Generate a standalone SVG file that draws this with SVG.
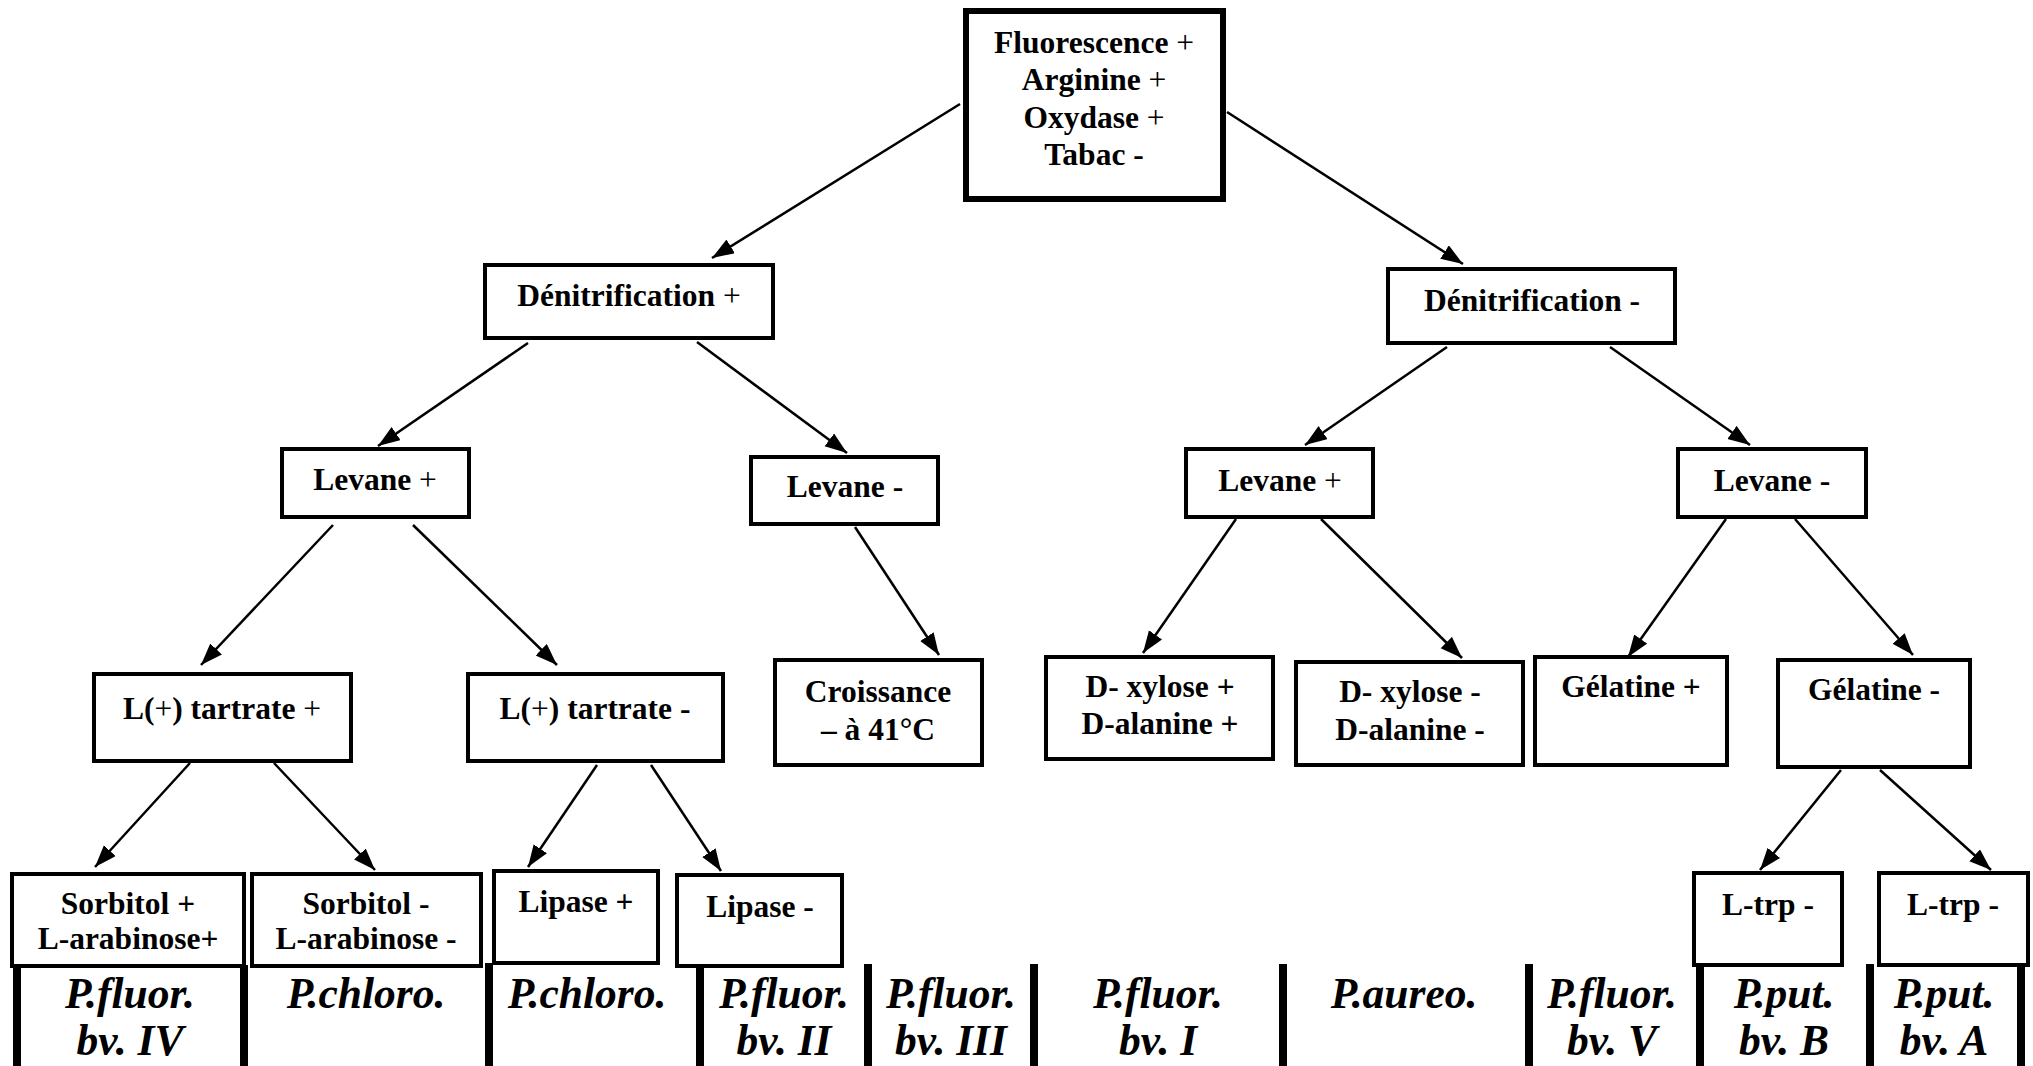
<svg xmlns="http://www.w3.org/2000/svg" width="2033" height="1066" viewBox="0 0 2033 1066">
<style>
rect.b{fill:#fff;stroke:#000;stroke-width:4}
rect.t{fill:#fff;stroke:#000;stroke-width:6}
text{font-family:"Liberation Serif","Times New Roman",serif;font-weight:bold;font-size:31.5px;text-anchor:middle;fill:#000}
text.sp{font-style:italic;font-size:43.5px}
tspan.n{font-weight:normal}
line.c{stroke:#000;stroke-width:2.5;marker-end:url(#ah)}
line.bar{stroke:#000;stroke-width:8}
</style>
<defs>
<marker id="ah" markerUnits="userSpaceOnUse" markerWidth="24" markerHeight="18" refX="22" refY="8" orient="auto">
<path d="M0,0 L22,8 L0,16 z" fill="#000"/>
</marker>
</defs>
<rect width="2033" height="1066" fill="#fff"/>
<g id="connectors">
<line class="c" x1="960" y1="104" x2="712" y2="258"/>
<line class="c" x1="1227" y1="112" x2="1463" y2="264"/>
<line class="c" x1="528" y1="343" x2="378" y2="446"/>
<line class="c" x1="697" y1="342" x2="847" y2="453"/>
<line class="c" x1="1447" y1="347" x2="1305" y2="445"/>
<line class="c" x1="1610" y1="347" x2="1750" y2="445"/>
<line class="c" x1="333" y1="525" x2="201" y2="665"/>
<line class="c" x1="413" y1="525" x2="557" y2="665"/>
<line class="c" x1="855" y1="527" x2="939" y2="655"/>
<line class="c" x1="1236" y1="519" x2="1143" y2="653"/>
<line class="c" x1="1321" y1="519" x2="1462" y2="658"/>
<line class="c" x1="1726" y1="519" x2="1628" y2="657"/>
<line class="c" x1="1795" y1="519" x2="1913" y2="655"/>
<line class="c" x1="190" y1="763" x2="95" y2="867"/>
<line class="c" x1="274" y1="763" x2="375" y2="870"/>
<line class="c" x1="597" y1="765" x2="528" y2="867"/>
<line class="c" x1="651" y1="765" x2="721" y2="871"/>
<line class="c" x1="1841" y1="770" x2="1760" y2="870"/>
<line class="c" x1="1880" y1="770" x2="1991" y2="870"/>
</g>
<g id="n-root"><rect class="t" x="966" y="11" width="257" height="188"/>
<text x="1094" y="53">Fluorescence <tspan class="n">+</tspan></text>
<text x="1094" y="90">Arginine <tspan class="n">+</tspan></text>
<text x="1094" y="128">Oxydase <tspan class="n">+</tspan></text>
<text x="1094" y="165">Tabac -</text></g>
<g id="n-denit-plus"><rect class="b" x="485" y="265" width="288" height="73"/><text x="629" y="306">Dénitrification <tspan class="n">+</tspan></text></g>
<g id="n-denit-minus"><rect class="b" x="1388" y="269" width="287" height="74"/><text x="1532" y="311">Dénitrification -</text></g>
<g id="n-levane-plus-l"><rect class="b" x="282" y="449" width="187" height="68"/><text x="375" y="490">Levane <tspan class="n">+</tspan></text></g>
<g id="n-levane-minus-l"><rect class="b" x="751" y="457" width="187" height="67"/><text x="845" y="497">Levane -</text></g>
<g id="n-levane-plus-r"><rect class="b" x="1186" y="449" width="187" height="68"/><text x="1280" y="491">Levane <tspan class="n">+</tspan></text></g>
<g id="n-levane-minus-r"><rect class="b" x="1678" y="449" width="188" height="68"/><text x="1772" y="491">Levane -</text></g>
<g id="n-tart-plus"><rect class="b" x="94" y="674" width="257" height="87"/><text x="222" y="719">L(<tspan class="n">+</tspan>) tartrate <tspan class="n">+</tspan></text></g>
<g id="n-tart-minus"><rect class="b" x="468" y="674" width="255" height="87"/><text x="595" y="719">L(<tspan class="n">+</tspan>) tartrate -</text></g>
<g id="n-croissance"><rect class="b" x="775" y="660" width="207" height="105"/><text x="878" y="702">Croissance</text><text x="878" y="740">– à 41°C</text></g>
<g id="n-xyl-plus"><rect class="b" x="1046" y="657" width="227" height="102"/><text x="1160" y="697">D- xylose +</text><text x="1160" y="734">D-alanine +</text></g>
<g id="n-xyl-minus"><rect class="b" x="1296" y="662" width="227" height="103"/><text x="1410" y="702">D- xylose -</text><text x="1410" y="740">D-alanine -</text></g>
<g id="n-gel-plus"><rect class="b" x="1535" y="657" width="192" height="108"/><text x="1631" y="697">Gélatine +</text></g>
<g id="n-gel-minus"><rect class="b" x="1778" y="660" width="192" height="107"/><text x="1874" y="700">Gélatine -</text></g>
<g id="n-sorb-plus"><rect class="b" x="12" y="874" width="232" height="92"/><text x="128" y="914">Sorbitol +</text><text x="128" y="949">L-arabinose+</text></g>
<g id="n-sorb-minus"><rect class="b" x="252" y="874" width="229" height="92"/><text x="366" y="914">Sorbitol -</text><text x="366" y="949">L-arabinose -</text></g>
<g id="n-lip-plus"><rect class="b" x="494" y="871" width="164" height="92"/><text x="576" y="912">Lipase +</text></g>
<g id="n-lip-minus"><rect class="b" x="677" y="875" width="165" height="91"/><text x="760" y="917">Lipase -</text></g>
<g id="n-ltrp-1"><rect class="b" x="1694" y="873" width="148" height="92"/><text x="1768" y="915">L-trp -</text></g>
<g id="n-ltrp-2"><rect class="b" x="1879" y="873" width="149" height="92"/><text x="1953" y="915">L-trp -</text></g>
<g id="table">
<line class="bar" x1="17" y1="965" x2="17" y2="1066"/>
<line class="bar" x1="244" y1="965" x2="244" y2="1066"/>
<line class="bar" x1="489" y1="963" x2="489" y2="1066"/>
<line class="bar" x1="700" y1="965" x2="700" y2="1066"/>
<line class="bar" x1="868" y1="964" x2="868" y2="1066"/>
<line class="bar" x1="1034" y1="964" x2="1034" y2="1066"/>
<line class="bar" x1="1283" y1="964" x2="1283" y2="1066"/>
<line class="bar" x1="1529" y1="964" x2="1529" y2="1066"/>
<line class="bar" x1="1700" y1="965" x2="1700" y2="1066"/>
<line class="bar" x1="1870" y1="964" x2="1870" y2="1066"/>
<line class="bar" x1="2021" y1="965" x2="2021" y2="1066"/>
<text class="sp" x="130" y="1008">P.fluor.</text><text class="sp" x="130" y="1055">bv. IV</text>
<text class="sp" x="366" y="1008">P.chloro.</text>
<text class="sp" x="587" y="1008">P.chloro.</text>
<text class="sp" x="784" y="1008">P.fluor.</text><text class="sp" x="784" y="1055">bv. II</text>
<text class="sp" x="951" y="1008">P.fluor.</text><text class="sp" x="951" y="1055">bv. III</text>
<text class="sp" x="1158" y="1008">P.fluor.</text><text class="sp" x="1158" y="1055">bv. I</text>
<text class="sp" x="1404" y="1008">P.aureo.</text>
<text class="sp" x="1612" y="1008">P.fluor.</text><text class="sp" x="1612" y="1055">bv. V</text>
<text class="sp" x="1784" y="1008">P.put.</text><text class="sp" x="1784" y="1055">bv. B</text>
<text class="sp" x="1944" y="1008">P.put.</text><text class="sp" x="1944" y="1055">bv. A</text>
</g>
</svg>
